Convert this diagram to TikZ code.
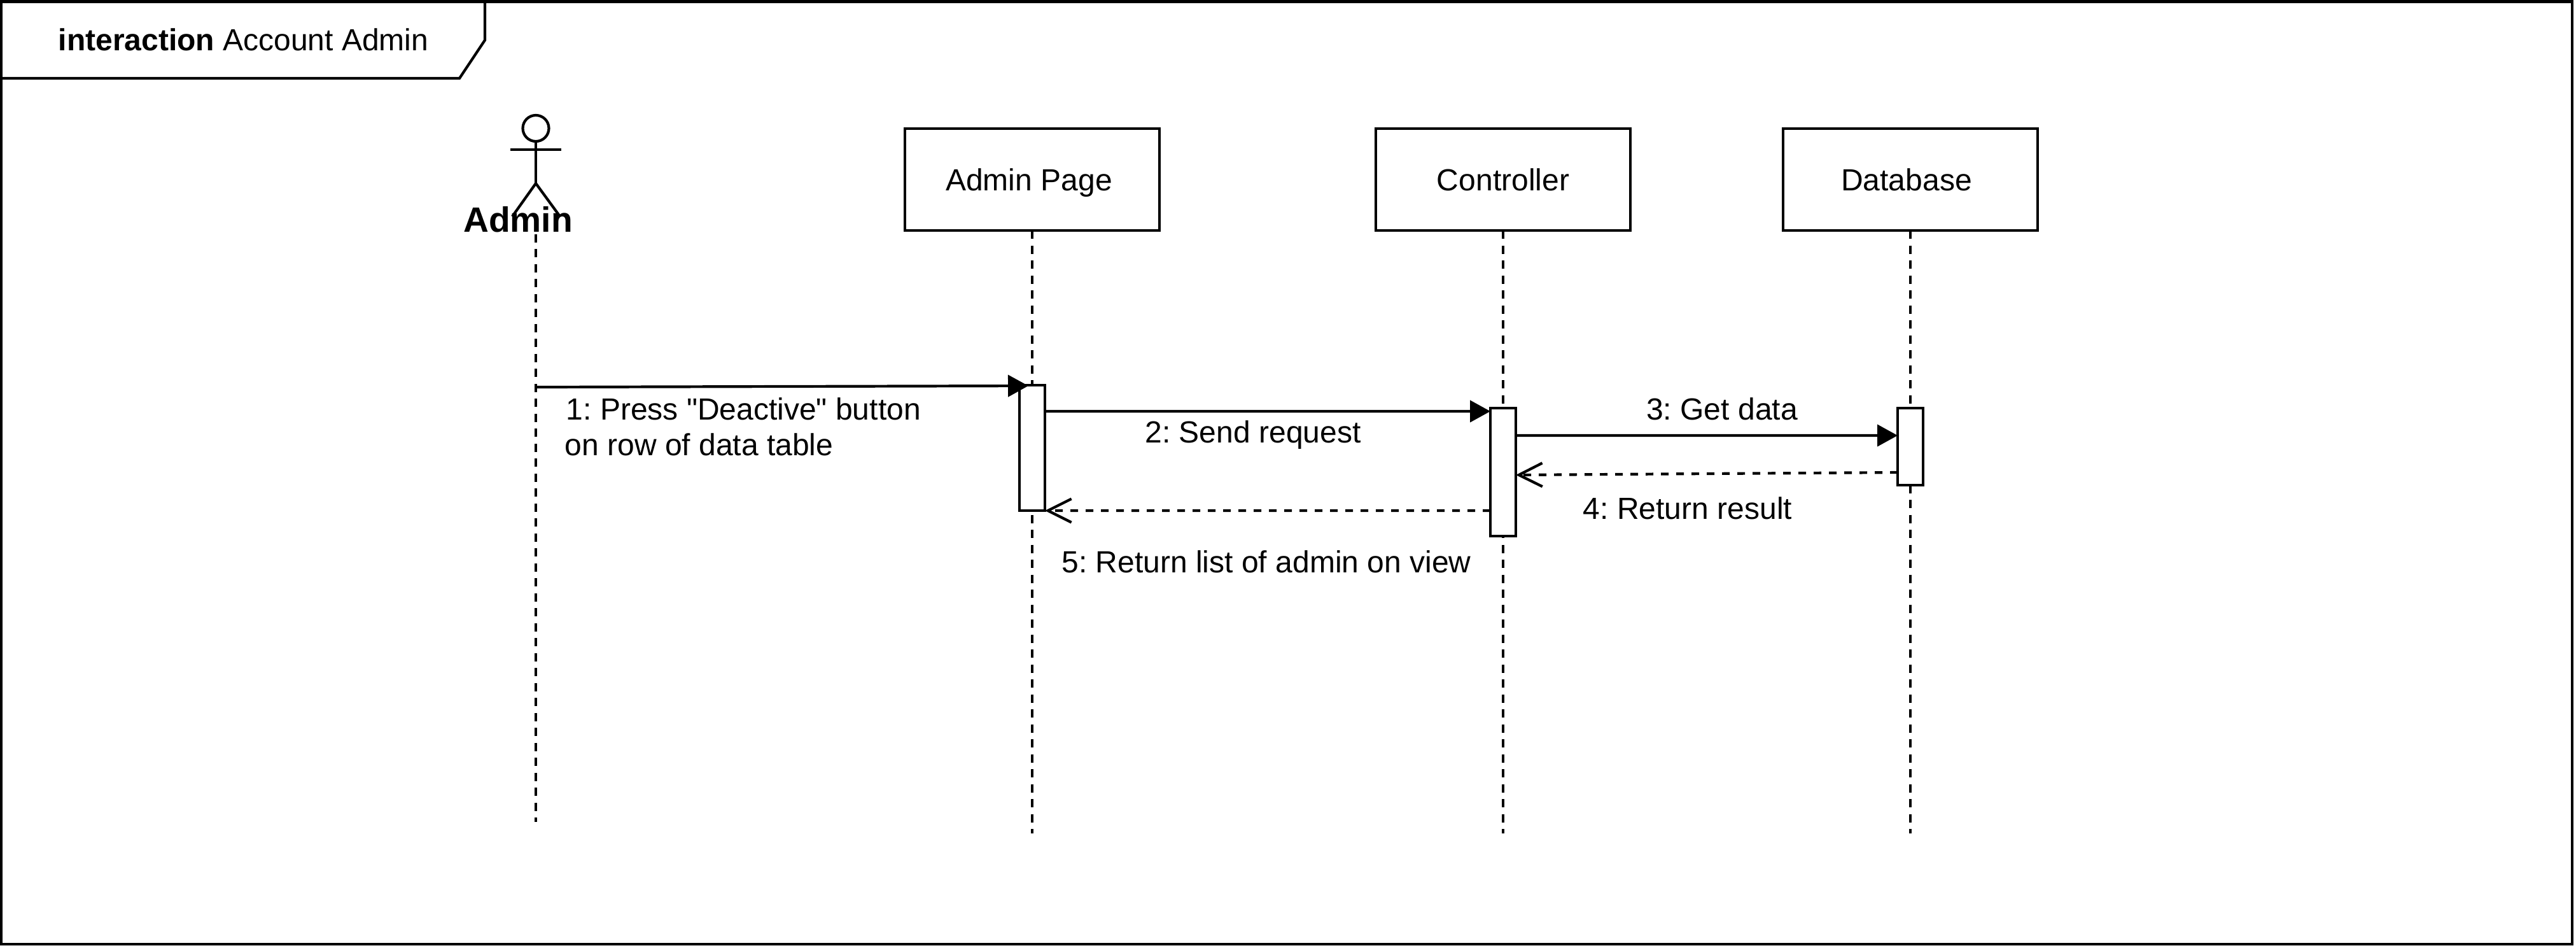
\documentclass[tikz,border=0pt]{standalone}
\usepackage{fontspec}
\setmainfont{Liberation Sans}[Ligatures=TeXOff]
\usetikzlibrary{arrows.meta}

\tikzset{
  heading/.style={draw,line width=0.042cm,minimum width=4cm,minimum height=1.6cm,inner sep=0pt,outer sep=0pt,text height=0.34cm,text depth=0cm,font=\frenchspacing\fontsize{13.66}{16}\selectfont},
  bar/.style={draw,fill=white,line width=0.042cm,minimum width=0.4cm,inner sep=0pt,outer sep=0pt},
  lifeline/.style={line width=0.04cm,dash pattern=on 0.13cm off 0.105cm},
  call/.style={line width=0.042cm,-{Triangle[length=0.32cm,width=0.34cm]}},
  reply/.style={line width=0.042cm,dash pattern=on 0.12cm off 0.12cm,-{Straight Barb[length=0.37cm,width=0.37cm]}},
  msg/.style={inner sep=0pt,font=\frenchspacing\fontsize{13.66}{16}\selectfont}
}

\begin{document}
\begin{tikzpicture}
\useasboundingbox (0,0) rectangle (40.48,-14.88);

% outer frame
\draw[line width=0.042cm] (0.02,-0.025) rectangle (40.42,-14.83);

% name tab
\draw[line width=0.042cm] (7.62,-0.025) -- (7.62,-0.63) -- (7.22,-1.23) -- (0.02,-1.23);
\node[msg,anchor=base west] (title) at (0.91,-0.79) {\textbf{interaction} Account Admin};

% actor
\node[draw,circle,line width=0.042cm,minimum size=0.41cm,inner sep=0pt] (head) at (8.42,-2.015) {};
\coordinate (hip) at (8.42,-2.88);
\coordinate (armL) at (8.02,-2.35);
\coordinate (armR) at (8.82,-2.35);
\coordinate (footL) at (8.05,-3.40);
\coordinate (footR) at (8.80,-3.40);
\draw[line width=0.042cm] (head.south) -- (hip);
\draw[line width=0.042cm] (armL) -- (armR);
\draw[line width=0.042cm] (footL) -- (hip) -- (footR);

% lifeline heads
\node[heading] (page) at (16.22,-2.82) {\hspace{-0.1cm}Admin Page};
\node[heading] (ctrl) at (23.62,-2.82) {Controller};
\node[heading] (dbase) at (30.02,-2.82) {\hspace{-0.12cm}Database};

% lifeline ends
\coordinate (adminEnd) at (8.42,-12.91);
\coordinate (pageEnd) at (16.22,-13.09);
\coordinate (ctrlEnd) at (23.62,-13.09);
\coordinate (dbaseEnd) at (30.02,-13.09);
\coordinate (adminTop) at (8.42,-3.44);

% dashed lifelines
\draw[lifeline] (adminTop) -- (adminEnd);
\draw[lifeline] (page) -- (pageEnd);
\draw[lifeline] (ctrl) -- (ctrlEnd);
\draw[lifeline] (dbase) -- (dbaseEnd);
\node[anchor=base,inner sep=0pt,font=\fontsize{15.7}{18}\selectfont\bfseries] (adminName) at (8.14,-3.64) {Admin};

% activation bars
\node[bar,minimum height=1.97cm] (pageBar) at (16.22,-7.035) {};
\node[bar,minimum height=2.01cm] (ctrlBar) at (23.62,-7.415) {};
\node[bar,minimum height=1.21cm] (dbaseBar) at (30.02,-7.015) {};

% messages
\draw[call] (8.42,-6.08) -- ([xshift=0.14cm,yshift=-0.01cm]pageBar.north west);
\draw[call] ([yshift=-0.41cm]pageBar.north east) -- ([yshift=-0.05cm]ctrlBar.north west);
\draw[call] ([yshift=-0.43cm]ctrlBar.north east) -- ([yshift=-0.43cm]dbaseBar.north west);
\draw[reply] ([yshift=-1.01cm]dbaseBar.north west) -- ([yshift=-1.05cm]ctrlBar.north east);
\draw[reply] ([yshift=-1.61cm]ctrlBar.north west) -- (pageBar.south east);

% message labels
\node[msg,anchor=base west] (msgOne) at (8.89,-6.59) {1: Press "Deactive" button};
\node[msg,anchor=base west] (msgOneB) at (8.87,-7.15) {on row of data table};
\node[msg,anchor=base] (msgTwo) at (19.69,-6.95) {2: Send request};
\node[msg,anchor=base] (msgThree) at (27.06,-6.59) {3: Get data};
\node[msg,anchor=base] (msgFour) at (26.52,-8.15) {4: Return result};
\node[msg,anchor=base] (msgFive) at (19.90,-8.99) {5: Return list of admin on view};

\end{tikzpicture}
\end{document}
